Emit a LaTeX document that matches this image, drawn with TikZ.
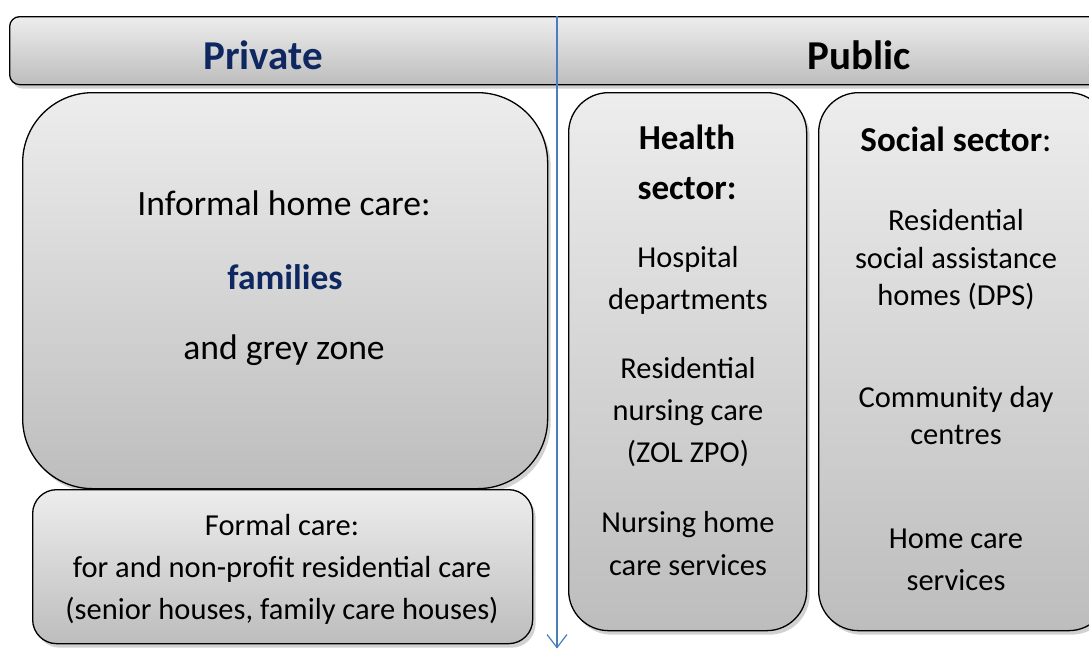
\documentclass[tikz,border=0pt]{standalone}
\usepackage{fontspec}
\setmainfont{Carlito}
\usetikzlibrary{shadows}
\definecolor{navy}{HTML}{0F2760}
\definecolor{topg}{HTML}{EDEDED}
\definecolor{botg}{HTML}{BDBDBD}
\definecolor{divblue}{HTML}{4A7EBB}
\tikzset{
  panel/.style={draw=black, line width=1.3pt, top color=topg, bottom color=botg,
    anchor=north west, inner sep=0pt,
    drop shadow={shadow xshift=3pt, shadow yshift=-4pt, fill=black, opacity=0.18}},
  txt/.style={inner sep=0pt, align=center},
  divline/.style={divblue, line width=1.2pt},
}
\begin{document}
\begin{tikzpicture}[x=1pt,y=-1pt]
\useasboundingbox (0,0) rectangle (1089,649);
\begin{scope}
\clip (0,0) rectangle (1089,649);
% header bar
\node[panel, rounded corners=10pt, minimum width=1100pt, minimum height=68pt] (hdr) at (9,16) {};
% boxes
\node[panel, rounded corners=70pt, minimum width=525pt, minimum height=396pt] (inf) at (22,92) {};
\node[panel, rounded corners=24pt, minimum width=500pt, minimum height=154pt] (form) at (32,489) {};
\node[panel, rounded corners=40pt, minimum width=238pt, minimum height=538pt] (hea) at (568,92) {};
\node[panel, rounded corners=40pt, minimum width=290pt, minimum height=538pt] (soc) at (818,92) {};
\end{scope}
% divider arrow
\coordinate (dtop) at (557,16);
\coordinate (dbot) at (557,647.5);
\draw[divline] (dtop) -- (dbot);
\draw[divline, line join=miter] (dbot) ++(-10,-13) -- (dbot) -- ++(10,-13);
% header texts
\node[txt, font=\fontsize{41}{46}\selectfont\bfseries, text=navy] (priv) at (263,55) {Private};
\node[txt, font=\fontsize{41}{46}\selectfont\bfseries] (pub) at (859,55) {Public};
% informal
\node[txt, font=\fontsize{35.6}{40}\selectfont] (inf1) at (284,203) {Informal home care:};
\node[txt, font=\fontsize{35.5}{40}\selectfont\bfseries, text=navy] (inf2) at (285,277) {families};
\node[txt, font=\fontsize{35.6}{40}\selectfont] (inf3) at (284,350) {and grey zone};
% formal
\node[txt, font=\fontsize{30.5}{42}\selectfont] (form1) at (282,569) {Formal care:\\for and non-profit residential care\\(senior houses, family care houses)};
% health
\node[txt, font=\fontsize{35}{50}\selectfont\bfseries] (hea1) at (687,162) {Health\\sector:};
\node[txt, font=\fontsize{30.4}{42}\selectfont] (hea2) at (688,280) {Hospital\\departments};
\node[txt, font=\fontsize{30.4}{42}\selectfont] (hea3) at (688,412) {Residential\\nursing care\\(ZOL ZPO)};
\node[txt, font=\fontsize{30.4}{42.5}\selectfont] (hea4) at (688,543.5) {Nursing home\\care services};
% social
\node[txt, font=\fontsize{35}{38}\selectfont] (soc1) at (956,139) {\textbf{Social sector}:};
\node[txt, font=\fontsize{30.5}{37.5}\selectfont] (soc2) at (956,260) {Residential\\social assistance\\homes (DPS)};
\node[txt, font=\fontsize{30.5}{37.5}\selectfont] (soc3) at (956,415.5) {Community day\\centres};
\node[txt, font=\fontsize{30.5}{42}\selectfont] (soc4) at (956,560) {Home care\\services};
\end{tikzpicture}
\end{document}
